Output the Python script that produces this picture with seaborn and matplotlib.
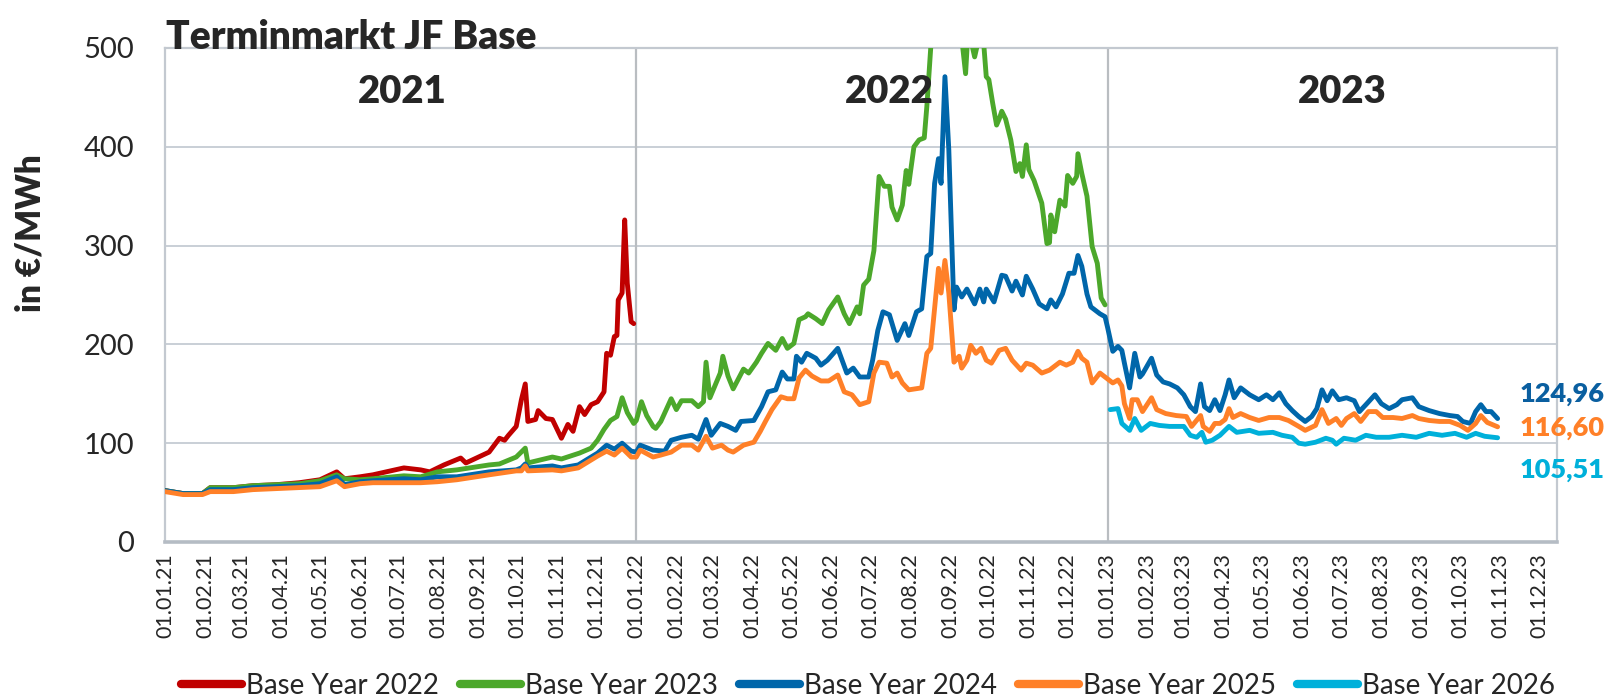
import matplotlib
matplotlib.use("Agg")
import matplotlib.dates as mdates
import matplotlib.pyplot as plt
import pandas as pd
import seaborn as sns
from matplotlib.lines import Line2D

# Base Year 2022 (endet Ende 2021)
red_dates = [
    "2021-01-01", "2021-01-15", "2021-01-30", "2021-02-05", "2021-02-23", "2021-03-10", "2021-03-28",
    "2021-04-15", "2021-05-01", "2021-05-14", "2021-05-20", "2021-06-01", "2021-06-11", "2021-07-05",
    "2021-07-18", "2021-07-25", "2021-08-05", "2021-08-18", "2021-08-22", "2021-09-09", "2021-09-17",
    "2021-09-21", "2021-09-24", "2021-09-30", "2021-10-04", "2021-10-07", "2021-10-09", "2021-10-15",
    "2021-10-17", "2021-10-23", "2021-10-28", "2021-11-04", "2021-11-09", "2021-11-13", "2021-11-18",
    "2021-11-22", "2021-11-27", "2021-12-02", "2021-12-07", "2021-12-09", "2021-12-12", "2021-12-15",
    "2021-12-17", "2021-12-18", "2021-12-21", "2021-12-23", "2021-12-25", "2021-12-28", "2021-12-30",
]
red_vals = [
    52, 49, 49, 55, 55, 57, 58, 60, 63, 71, 64, 66, 68, 75, 73, 71, 78, 85, 80, 91, 105, 103, 108, 117,
    144, 160, 122, 124, 133, 125, 124, 105, 119, 112, 137, 129, 139, 142, 152, 191, 189, 208, 209, 245,
    252, 326, 262, 223, 221,
]

# Base Year 2023 (endet Ende 2022)
green_dates = [
    "2021-01-01", "2021-01-15", "2021-01-30", "2021-02-05", "2021-02-23", "2021-03-10", "2021-03-28",
    "2021-04-15", "2021-05-01", "2021-05-14", "2021-05-20", "2021-06-01", "2021-06-11", "2021-07-05",
    "2021-07-18", "2021-07-31", "2021-08-15", "2021-09-09", "2021-09-17", "2021-09-30", "2021-10-07",
    "2021-10-09", "2021-10-28", "2021-11-04", "2021-11-18", "2021-11-27", "2021-12-02", "2021-12-07",
    "2021-12-12", "2021-12-17", "2021-12-21", "2021-12-25", "2021-12-30",
    "2022-01-01", "2022-01-05", "2022-01-09", "2022-01-14", "2022-01-16", "2022-01-20", "2022-01-28",
    "2022-02-01", "2022-02-05", "2022-02-13", "2022-02-18", "2022-02-22", "2022-02-24", "2022-02-27",
    "2022-03-07", "2022-03-09", "2022-03-13", "2022-03-17", "2022-03-25", "2022-03-29", "2022-04-04",
    "2022-04-08", "2022-04-13", "2022-04-19", "2022-04-24", "2022-04-28", "2022-05-03", "2022-05-07",
    "2022-05-12", "2022-05-14", "2022-05-20", "2022-05-25", "2022-05-30", "2022-06-06", "2022-06-11",
    "2022-06-15", "2022-06-21", "2022-06-23", "2022-06-26", "2022-06-30", "2022-07-04", "2022-07-08",
    "2022-07-12", "2022-07-16", "2022-07-18", "2022-07-22", "2022-07-26", "2022-07-29", "2022-07-31",
    "2022-08-04", "2022-08-08", "2022-08-12", "2022-08-14", "2022-08-16", "2022-08-18", "2022-08-22",
    "2022-08-26", "2022-08-30", "2022-09-05", "2022-09-10", "2022-09-13", "2022-09-15", "2022-09-20",
    "2022-09-25", "2022-09-27", "2022-09-29", "2022-10-01", "2022-10-04", "2022-10-07", "2022-10-09",
    "2022-10-11", "2022-10-14", "2022-10-18", "2022-10-22", "2022-10-25", "2022-10-27", "2022-10-30",
    "2022-11-01", "2022-11-05", "2022-11-11", "2022-11-15", "2022-11-17", "2022-11-18", "2022-11-21",
    "2022-11-25", "2022-11-29", "2022-12-01", "2022-12-05", "2022-12-08", "2022-12-09", "2022-12-12",
    "2022-12-16", "2022-12-18", "2022-12-20", "2022-12-24", "2022-12-27", "2022-12-30",
]
green_vals = [
    52, 49, 49, 55, 55, 57, 58, 59, 62, 68, 64, 63, 64, 67, 66, 71, 73, 78, 79, 86, 95, 80, 86, 84, 90,
    95, 103, 114, 123, 127, 146, 131, 120,
    123, 142, 128, 117, 115, 122, 145, 134, 143, 143, 137, 142, 182, 146, 171, 188, 168, 155, 175, 171,
    182, 191, 201, 194, 206, 196, 201, 225, 228, 231, 226, 221, 235, 248, 231, 221, 238, 231, 260, 266,
    295, 370, 360, 360, 339, 326, 341, 376, 362, 400, 407, 409, 441, 481, 520, 680, 850, 700, 580, 510,
    474, 520, 491, 520, 505, 471, 468, 444, 422, 428, 436, 428, 407, 375, 383, 370, 402, 377, 366, 343,
    302, 303, 331, 314, 346, 340, 371, 363, 370, 393, 373, 350, 324, 299, 282, 247, 240,
]

# Base Year 2024
blue_dates = [
    "2021-01-01", "2021-01-15", "2021-01-30", "2021-02-05", "2021-02-23", "2021-03-10", "2021-03-28",
    "2021-04-15", "2021-05-01", "2021-05-14", "2021-05-20", "2021-06-01", "2021-06-11", "2021-07-05",
    "2021-07-18", "2021-07-31", "2021-08-15", "2021-09-09", "2021-09-30", "2021-10-04", "2021-10-07",
    "2021-10-09", "2021-10-28", "2021-11-04", "2021-11-17", "2021-12-02", "2021-12-09", "2021-12-15",
    "2021-12-21", "2021-12-28",
    "2022-01-01", "2022-01-04", "2022-01-14", "2022-01-23", "2022-01-28", "2022-02-05", "2022-02-13",
    "2022-02-18", "2022-02-24", "2022-02-28", "2022-03-07", "2022-03-13", "2022-03-19", "2022-03-23",
    "2022-04-02", "2022-04-08", "2022-04-13", "2022-04-19", "2022-04-24", "2022-04-28", "2022-05-03",
    "2022-05-05", "2022-05-09", "2022-05-13", "2022-05-20", "2022-05-24", "2022-05-29", "2022-06-06",
    "2022-06-13", "2022-06-18", "2022-06-23", "2022-06-30", "2022-07-03", "2022-07-07", "2022-07-11",
    "2022-07-16", "2022-07-22", "2022-07-28", "2022-07-31", "2022-08-06", "2022-08-10", "2022-08-14",
    "2022-08-17", "2022-08-20", "2022-08-23", "2022-08-25", "2022-08-28", "2022-08-31", "2022-09-04",
    "2022-09-06", "2022-09-10", "2022-09-14", "2022-09-20", "2022-09-24", "2022-09-27", "2022-09-29",
    "2022-10-05", "2022-10-11", "2022-10-14", "2022-10-19", "2022-10-22", "2022-10-27", "2022-10-30",
    "2022-11-04", "2022-11-09", "2022-11-15", "2022-11-18", "2022-11-22", "2022-11-27", "2022-12-02",
    "2022-12-06", "2022-12-09", "2022-12-12", "2022-12-16", "2022-12-19", "2022-12-26", "2022-12-30",
    "2023-01-01", "2023-01-05", "2023-01-09", "2023-01-12", "2023-01-14", "2023-01-18", "2023-01-22",
    "2023-01-26", "2023-01-28", "2023-02-04", "2023-02-08", "2023-02-13", "2023-02-18", "2023-02-24",
    "2023-03-01", "2023-03-06", "2023-03-10", "2023-03-14", "2023-03-17", "2023-03-21", "2023-03-25",
    "2023-03-29", "2023-04-02", "2023-04-05", "2023-04-09", "2023-04-14", "2023-04-21", "2023-04-28",
    "2023-05-04", "2023-05-09", "2023-05-14", "2023-05-19", "2023-05-24", "2023-05-29", "2023-06-03",
    "2023-06-08", "2023-06-12", "2023-06-16", "2023-06-20", "2023-06-24", "2023-06-29", "2023-07-05",
    "2023-07-11", "2023-07-15", "2023-07-20", "2023-07-27", "2023-08-01", "2023-08-07", "2023-08-13",
    "2023-08-17", "2023-08-25", "2023-08-30", "2023-09-07", "2023-09-15", "2023-09-23", "2023-09-29",
    "2023-10-03", "2023-10-09", "2023-10-13", "2023-10-17", "2023-10-21", "2023-10-25", "2023-10-30",
]
blue_vals = [
    52, 49, 49, 53, 53, 55, 56, 57, 59, 66, 58, 61, 62, 64, 63, 66, 66, 71, 73, 75, 79, 75, 77, 75, 78,
    90, 98, 94, 100, 92,
    91, 98, 93, 92, 103, 106, 108, 104, 124, 108, 120, 117, 113, 122, 123, 137, 152, 154, 172, 165, 165,
    188, 182, 191, 186, 179, 184, 196, 171, 176, 167, 167, 184, 214, 233, 230, 204, 221, 209, 233, 236,
    289, 292, 363, 388, 363, 471, 397, 235, 258, 248, 256, 241, 256, 243, 256, 243, 270, 269, 254, 264,
    250, 269, 256, 241, 236, 245, 238, 251, 272, 272, 290, 279, 251, 238, 231, 228,
    217, 193, 198, 194, 181, 156, 191, 167, 170, 186, 169, 162, 160, 156, 149, 137, 132, 160, 137, 133,
    144, 133, 149, 164, 146, 156, 149, 144, 149, 144, 151, 140, 133, 127, 122, 127, 135, 154, 143, 153,
    144, 146, 143, 132, 139, 149, 140, 135, 139, 144, 146, 137, 133, 130, 128, 127, 122, 120, 132, 139,
    132, 132, 124.96,
]

# Base Year 2025
orange_dates = [
    "2021-01-01", "2021-01-15", "2021-01-30", "2021-02-05", "2021-02-23", "2021-03-10", "2021-03-28",
    "2021-04-15", "2021-05-01", "2021-05-14", "2021-05-20", "2021-06-01", "2021-06-11", "2021-07-05",
    "2021-07-18", "2021-07-31", "2021-08-15", "2021-09-09", "2021-09-30", "2021-10-04", "2021-10-07",
    "2021-10-09", "2021-10-28", "2021-11-04", "2021-11-17", "2021-12-02", "2021-12-09", "2021-12-15",
    "2021-12-21", "2021-12-28",
    "2022-01-01", "2022-01-04", "2022-01-14", "2022-01-20", "2022-01-28", "2022-02-05", "2022-02-13",
    "2022-02-18", "2022-02-24", "2022-03-01", "2022-03-08", "2022-03-13", "2022-03-17", "2022-03-25",
    "2022-04-02", "2022-04-07", "2022-04-11", "2022-04-16", "2022-04-23", "2022-04-28", "2022-05-03",
    "2022-05-07", "2022-05-12", "2022-05-17", "2022-05-24", "2022-05-30", "2022-06-06", "2022-06-11",
    "2022-06-17", "2022-06-23", "2022-06-30", "2022-07-04", "2022-07-08", "2022-07-14", "2022-07-18",
    "2022-07-22", "2022-07-26", "2022-07-31", "2022-08-10", "2022-08-14", "2022-08-17", "2022-08-23",
    "2022-08-25", "2022-08-28", "2022-08-31", "2022-09-04", "2022-09-08", "2022-09-10", "2022-09-14",
    "2022-09-17", "2022-09-21", "2022-09-25", "2022-09-29", "2022-10-03", "2022-10-09", "2022-10-14",
    "2022-10-19", "2022-10-26", "2022-10-30", "2022-11-04", "2022-11-11", "2022-11-17", "2022-11-25",
    "2022-11-30", "2022-12-05", "2022-12-09", "2022-12-12", "2022-12-16", "2022-12-20", "2022-12-26",
    "2022-12-31",
    "2023-01-05", "2023-01-09", "2023-01-12", "2023-01-14", "2023-01-18", "2023-01-20", "2023-01-24",
    "2023-01-28", "2023-02-04", "2023-02-08", "2023-02-15", "2023-02-23", "2023-03-03", "2023-03-07",
    "2023-03-14", "2023-03-16", "2023-03-21", "2023-03-25", "2023-03-29", "2023-04-02", "2023-04-05",
    "2023-04-08", "2023-04-14", "2023-04-21", "2023-04-28", "2023-05-06", "2023-05-14", "2023-05-21",
    "2023-05-29", "2023-06-03", "2023-06-11", "2023-06-16", "2023-06-21", "2023-06-27", "2023-07-01",
    "2023-07-05", "2023-07-11", "2023-07-16", "2023-07-22", "2023-07-28", "2023-08-02", "2023-08-10",
    "2023-08-17", "2023-08-25", "2023-08-30", "2023-09-07", "2023-09-15", "2023-09-23", "2023-10-01",
    "2023-10-07", "2023-10-13", "2023-10-17", "2023-10-22", "2023-10-30",
]
orange_vals = [
    51, 48, 48, 51, 51, 53, 54, 55, 56, 62, 56, 59, 60, 60, 60, 61, 63, 68, 72, 72, 77, 72, 73, 72, 75,
    87, 92, 88, 95, 86,
    86, 93, 86, 88, 91, 98, 98, 93, 107, 95, 98, 93, 91, 98, 101, 112, 122, 134, 147, 145, 145, 166, 174,
    168, 163, 163, 169, 152, 149, 139, 142, 171, 182, 181, 167, 171, 161, 154, 156, 191, 196, 277, 252,
    285, 252, 182, 188, 176, 184, 199, 191, 196, 184, 181, 194, 196, 184, 174, 181, 179, 171, 174, 182,
    179, 182, 193, 186, 182, 161, 171, 166,
    161, 164, 158, 140, 125, 144, 144, 132, 146, 134, 130, 128, 127, 117, 128, 117, 112, 120, 120, 124,
    135, 126, 130, 126, 123, 126, 126, 123, 117, 113, 118, 134, 120, 125, 118, 125, 130, 122, 132, 132,
    126, 126, 125, 128, 125, 123, 122, 122, 118, 113, 120, 128, 121, 116.60,
]

# Base Year 2026 (ab 2023)
cyan_dates = [
    "2023-01-03", "2023-01-09", "2023-01-12", "2023-01-18", "2023-01-22", "2023-01-27", "2023-02-03",
    "2023-02-10", "2023-02-18", "2023-03-01", "2023-03-06", "2023-03-11", "2023-03-15", "2023-03-18",
    "2023-03-23", "2023-03-29", "2023-04-05", "2023-04-11", "2023-04-21", "2023-04-28", "2023-05-09",
    "2023-05-16", "2023-05-24", "2023-05-29", "2023-06-03", "2023-06-11", "2023-06-19", "2023-06-24",
    "2023-06-27", "2023-07-03", "2023-07-12", "2023-07-20", "2023-07-28", "2023-08-07", "2023-08-17",
    "2023-08-28", "2023-09-07", "2023-09-17", "2023-09-27", "2023-10-06", "2023-10-13", "2023-10-20",
    "2023-10-30",
]
cyan_vals = [
    134, 135, 120, 113, 125, 113, 120, 118, 117, 117, 108, 106, 111, 101, 103, 108, 117, 111, 113, 110,
    111, 108, 106, 100, 99, 101, 105, 103, 99, 105, 103, 108, 106, 106, 108, 106, 110, 108, 110, 106,
    110, 107, 105.51,
]

SERIES = [
    ("Base Year 2022", red_dates, red_vals, "#C00000"),
    ("Base Year 2023", green_dates, green_vals, "#4CA82B"),
    ("Base Year 2024", blue_dates, blue_vals, "#0066AA"),
    ("Base Year 2025", orange_dates, orange_vals, "#FF8028"),
    ("Base Year 2026", cyan_dates, cyan_vals, "#00B0DA"),
]

year_labels = ["2021", "2022", "2023"]
year_label_dates = ["2021-07-04", "2022-07-16", "2023-07-02"]

end_labels = ["124,96", "116,60", "105,51"]
end_label_y = [150, 115, 73]
end_label_colors = ["#0A5FA0", "#FF8028", "#00B0DA"]

W, H = 1611, 699

frames = []
for name, dates, vals, _ in SERIES:
    assert len(dates) == len(vals), name
    frames.append(pd.DataFrame({"date": pd.to_datetime(dates), "price": vals, "product": name}))
df = pd.concat(frames, ignore_index=True)
palette = {name: color for name, _, _, color in SERIES}

sns.set_style("white")
plt.rcParams["font.family"] = ["Lato", "DejaVu Sans"]

fig = plt.figure(figsize=(W / 100, H / 100), dpi=100)
ax = fig.add_axes([165 / W, 1 - 542 / H, (1557 - 165) / W, (542 - 48) / H])

sns.lineplot(data=df, x="date", y="price", hue="product", palette=palette,
             estimator=None, linewidth=3.5, legend=False, ax=ax, zorder=3)

ax.set_xlim(pd.Timestamp("2021-01-01"), pd.Timestamp("2023-12-15"))
ax.set_ylim(0, 500)
ax.set_yticks(range(0, 501, 100))
ax.set_xticks(pd.date_range("2021-01-01", "2023-12-01", freq="MS"))
ax.xaxis.set_major_formatter(mdates.DateFormatter("%d.%m.%y"))
ax.tick_params(axis="x", labelrotation=90, labelsize=15.5, length=0, pad=8)
ax.tick_params(axis="y", labelsize=21, length=0, pad=22)
ax.set_xlabel("")
ax.set_ylabel("")

ax.yaxis.grid(True, color="#C9CFD6", linewidth=1.4)
ax.set_axisbelow(True)
for yr in ["2022-01-01", "2023-01-01"]:
    ax.axvline(pd.Timestamp(yr), color="#B9BDC1", linewidth=1.6, zorder=1)
for side in ["left", "right", "top"]:
    ax.spines[side].set_color("#C3C9D0")
    ax.spines[side].set_linewidth(1.6)
ax.spines["bottom"].set_color("#B5BCC4")
ax.spines["bottom"].set_linewidth(2.6)

for label, d in zip(year_labels, year_label_dates):
    ax.text(pd.Timestamp(d), 455, label, ha="center", va="center",
            fontsize=27.5, fontweight="heavy", zorder=5)

for label, y, color in zip(end_labels, end_label_y, end_label_colors):
    ax.text(pd.Timestamp("2023-11-16"), y, label, ha="left", va="center",
            fontsize=19.5, fontweight="heavy", color=color, clip_on=False)

fig.text(166 / W, 1 - 49 / H, "Terminmarkt JF Base", fontsize=28, fontweight="heavy",
         ha="left", va="baseline")
fig.text(30 / W, 1 - 233 / H, "in €/MWh", rotation=90, fontsize=24, fontweight="heavy",
         ha="center", va="center")

handles = [Line2D([0], [0], color=c, linewidth=6) for _, _, _, c in SERIES]
fig.legend(handles, [s[0] for s in SERIES], loc="center",
           bbox_to_anchor=(868 / W, 1 - 686 / H), ncol=5, frameon=False, fontsize=20,
           handlelength=2.2, handletextpad=0.15, columnspacing=0.75)

fig.savefig("out.png", dpi=100)
